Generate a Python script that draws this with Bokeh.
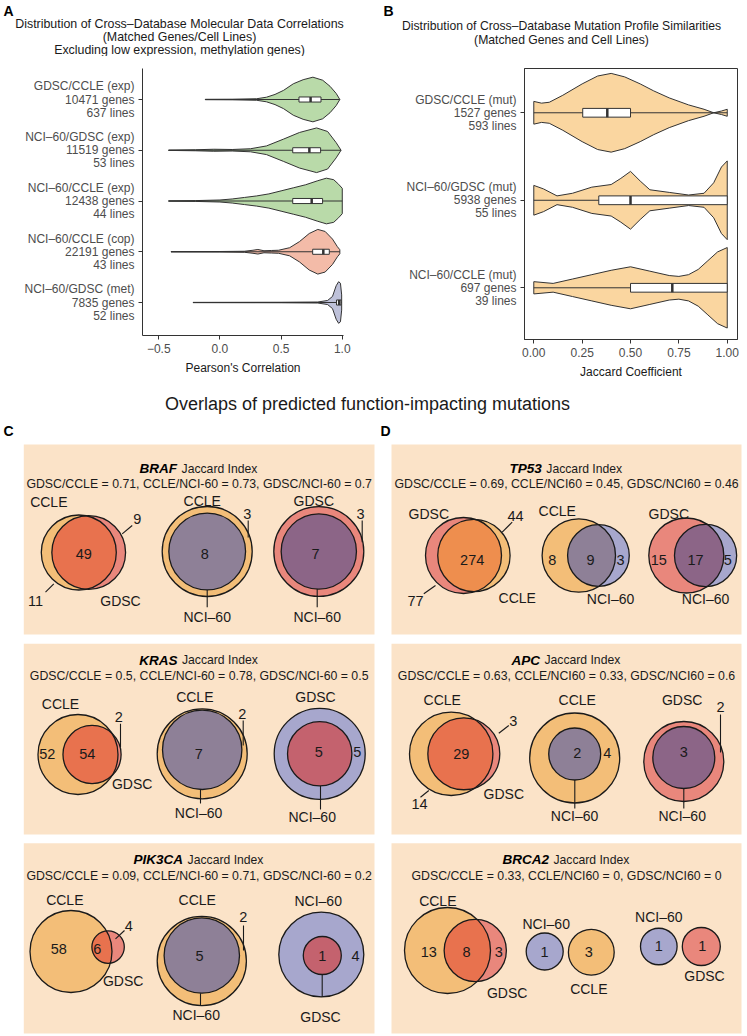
import math
import numpy as np
from bokeh.plotting import figure
from bokeh.models import Range1d, FixedTicker
from bokeh.layouts import column, row
from bokeh.embed import file_html
from bokeh.resources import INLINE
from bokeh.core.properties import value

FONT = "Liberation Sans"

# ---------------- Panel A data ----------------
A_LABELS = ["GDSC/CCLE (exp)", "NCI\u201360/GDSC (exp)", "NCI\u201360/CCLE (exp)",
            "NCI\u201360/CCLE (cop)", "NCI\u201360/GDSC (met)"]
A_GENES = [10471, 11519, 12438, 22191, 7835]
A_LINES = [637, 53, 44, 43, 52]
A_VIOLIN_X = [
    [-0.12, 0.10, 0.30, 0.38, 0.45, 0.52, 0.60, 0.68, 0.76, 0.84, 0.90, 0.95, 0.98],
    [-0.42, -0.20, -0.05, 0.10, 0.25, 0.38, 0.52, 0.65, 0.79, 0.88, 0.95, 0.99],
    [-0.42, -0.20, 0.00, 0.10, 0.20, 0.30, 0.40, 0.50, 0.60, 0.70, 0.80, 0.87, 0.93, 0.97, 1.00],
    [-0.40, 0.00, 0.20, 0.27, 0.31, 0.36, 0.42, 0.48, 0.57, 0.65, 0.73, 0.80, 0.86, 0.92, 0.96, 0.98],
    [-0.22, 0.50, 0.80, 0.88, 0.92, 0.95, 0.97, 0.985, 0.995],
]
A_VIOLIN_W = [
    [0.004, 0.006, 0.015, 0.045, 0.10, 0.18, 0.31, 0.39, 0.44, 0.38, 0.26, 0.12, 0.0],
    [0.003, 0.01, 0.02, 0.015, 0.03, 0.085, 0.22, 0.35, 0.44, 0.37, 0.15, 0.0],
    [0.003, 0.008, 0.02, 0.04, 0.07, 0.10, 0.14, 0.20, 0.26, 0.32, 0.40, 0.45, 0.42, 0.33, 0.25],
    [0.003, 0.005, 0.01, 0.03, 0.045, 0.02, 0.025, 0.03, 0.08, 0.20, 0.36, 0.44, 0.40, 0.25, 0.10, 0.04],
    [0.003, 0.005, 0.01, 0.04, 0.12, 0.33, 0.41, 0.38, 0.15],
]
A_Q1 = [0.646, 0.595, 0.595, 0.758, 0.953]
A_MED = [0.741, 0.731, 0.750, 0.845, 0.975]
A_Q3 = [0.826, 0.823, 0.839, 0.894, 0.990]
A_MIN = [-0.12, -0.42, -0.42, -0.40, -0.22]
A_MAX = [0.98, 0.99, 1.00, 0.98, 0.995]
A_TICKS = [-0.5, 0.0, 0.5, 1.0]
A_TICK_TEXT = ["\u22120.5", "0.0", "0.5", "1.0"]

# ---------------- Panel B data ----------------
B_LABELS = ["GDSC/CCLE (mut)", "NCI\u201360/GDSC (mut)", "NCI\u201360/CCLE (mut)"]
B_GENES = [1527, 5938, 697]
B_LINES = [593, 55, 39]
B_VIOLIN_X = [
    [0.0, 0.04, 0.08, 0.15, 0.25, 0.33, 0.40, 0.47, 0.55, 0.62, 0.70, 0.80, 0.88, 0.93, 0.97, 1.0],
    [0.0, 0.05, 0.12, 0.20, 0.30, 0.40, 0.45, 0.50, 0.55, 0.60, 0.70, 0.80, 0.88, 0.93, 0.97, 1.0],
    [0.0, 0.10, 0.20, 0.30, 0.40, 0.50, 0.60, 0.70, 0.75, 0.80, 0.85, 0.90, 0.95, 1.0],
]
B_VIOLIN_W = [
    [0.13, 0.11, 0.12, 0.20, 0.33, 0.42, 0.45, 0.41, 0.33, 0.25, 0.17, 0.09, 0.04, 0.0, 0.02, 0.04],
    [0.17, 0.13, 0.05, 0.08, 0.15, 0.18, 0.25, 0.33, 0.22, 0.12, 0.09, 0.06, 0.08, 0.20, 0.38, 0.45],
    [0.07, 0.05, 0.10, 0.15, 0.20, 0.24, 0.19, 0.14, 0.13, 0.15, 0.21, 0.31, 0.41, 0.46],
]
B_Q1 = [0.253, 0.336, 0.50]
B_MED = [0.38, 0.50, 0.716]
B_Q3 = [0.50, 1.00, 1.00]
B_WLO = [0.0, 0.0, 0.0]
B_WHI = [1.0, 1.0, 1.0]
B_TICKS = [0.0, 0.25, 0.5, 0.75, 1.0]
B_TICK_TEXT = ["0.00", "0.25", "0.50", "0.75", "1.00"]

# ---------------- Panels C / D data ----------------
GENES = ["BRAF", "KRAS", "PIK3CA", "TP53", "APC", "BRCA2"]
PAIR_NAMES = [["GDSC/CCLE", "CCLE/NCI-60", "GDSC/NCI-60"]] * 3 + [["GDSC/CCLE", "CCLE/NCI60", "GDSC/NCI60"]] * 3
N = "NCI\u201360"
VENN_SET_A = ["CCLE", "CCLE", "GDSC", "CCLE", "CCLE", "GDSC", "CCLE", "CCLE", N,
              "GDSC", "CCLE", "GDSC", "CCLE", "CCLE", "GDSC", "CCLE", N, N]
VENN_SET_B = ["GDSC", N, N, "GDSC", N, N, "GDSC", N, "GDSC",
              "CCLE", N, N, "GDSC", N, N, "GDSC", "CCLE", "GDSC"]
N_A_ONLY = [11, 3, 3, 52, 2, 5, 58, 2, 4, 77, 8, 15, 14, 4, 2, 13, 1, 1]
N_BOTH = [49, 8, 7, 54, 7, 5, 6, 5, 1, 274, 9, 17, 29, 2, 3, 8, 0, 0]
N_B_ONLY = [9, 0, 0, 2, 0, 0, 4, 0, 0, 44, 3, 5, 3, 0, 0, 3, 3, 1]

# ---------------- styles ----------------
CC, GD, NC = "#F3BE78", "#E9877C", "#A7A7CD"
X_CG, X_GC, X_CN, X_GN, X_NG = "#E8724E", "#EE8E4E", "#8E8097", "#8C6587", "#C4626E"
VENN_COLORS = [(CC, GD, X_CG), (CC, NC, X_CN), (GD, NC, X_GN),
               (CC, GD, X_CG), (CC, NC, X_CN), (NC, GD, X_NG),
               (CC, GD, X_CG), (CC, NC, X_CN), (NC, GD, X_NG),
               (GD, CC, X_GC), (CC, NC, X_CN), (GD, NC, X_GN),
               (CC, GD, X_CG), (CC, NC, X_CN), (GD, NC, X_GN),
               (CC, GD, X_CG), (NC, CC, None), (NC, GD, None)]
# layout of each diagram (page pixel coordinates)
VENN_LAYOUT = [
    dict(c=(78.3, 552), r=37.5, ang=0, la=(48.3, 501.7), lb=(120, 600), pa=(35, 600), pab=(83.3, 553.3), pb=(136.7, 518.3),
         lines=[(45, 591.7, 53.3, 583.3), (131.7, 525, 121.7, 533.3)]),
    dict(c=(206.7, 551), r=45, off=(0, 0), la=(201.7, 500), lb=(206.7, 616.7), pa=(246.7, 513.3), pab=(204.3, 553.3),
         lines=[(247.7, 520, 247.7, 537), (206.7, 589.4, 206.7, 606.7)]),
    dict(c=(318.3, 551), r=45, off=(0, 0), la=(313.3, 500), lb=(316.7, 616.7), pa=(360, 513.3), pab=(315, 553.3),
         lines=[(361.7, 520, 361.7, 541.7), (316.7, 588.6, 316.7, 606.7)]),
    dict(c=(77.5, 754), r=40, ang=0, la=(60, 703.3), lb=(131.7, 783.3), pa=(46.7, 753.3), pab=(86.7, 753.3), pb=(118.3, 716.7),
         lines=[(120, 723.3, 120, 746.7)]),
    dict(c=(201.7, 753.3), r=45, off=(0, -4), la=(194.3, 696.7), lb=(198, 812), pa=(241.7, 713.3), pab=(198.3, 753.3),
         lines=[(242.7, 720, 242.7, 745), (200, 789, 200, 803)]),
    dict(c=(319.2, 753.3), r=45.5, off=(0, 0), la=(315, 696.7), lb=(311.7, 816.7), pa=(356.7, 751.7), pab=(318.3, 751.7),
         lines=[(320, 785.5, 320, 809)]),
    dict(c=(70.5, 951), r=41, ang=-6.8, la=(64.3, 899.3), lb=(122.7, 980), pa=(58.3, 948.3), pab=(96.7, 948.3), pb=(128.3, 925),
         lines=[(124, 930, 115, 938.3)]),
    dict(c=(201.3, 960.5), r=44.6, off=(0, -5.5), la=(196.7, 899.3), lb=(195.7, 1014), pa=(242.7, 916), pab=(199, 955),
         lines=[(243, 925, 243, 950), (200, 992.7, 200, 1005)]),
    dict(c=(320.8, 954), r=42.5, off=(1, 1), la=(317.7, 900.7), lb=(320, 1016.7), pa=(355, 955.7), pab=(321.7, 955.7),
         lines=[(321.7, 974, 321.7, 996.5)]),
    dict(c=(463, 555), r=38, ang=0, la=(428.3, 513.3), lb=(516.7, 597.3), pa=(415, 600), pab=(471.7, 559), pb=(515, 515),
         lines=[(423.3, 593.3, 435, 585), (511.7, 521.7, 501.7, 531.7)]),
    dict(c=(578.3, 555), r=36.7, ang=0, la=(556.7, 510), lb=(610, 598.3), pa=(551.7, 559), pab=(590, 559), pb=(620, 559), lines=[]),
    dict(c=(685.8, 555), r=37.5, ang=0, la=(668.3, 513.3), lb=(705, 598.3), pa=(658.3, 559), pab=(695, 559), pb=(727.3, 559), lines=[]),
    dict(c=(450.7, 753.3), r=41.7, ang=0, la=(441.7, 699.3), lb=(503.3, 793.3), pa=(419, 803.3), pab=(460.7, 753.3), pb=(512.7, 720),
         lines=[(420, 796.7, 428.3, 790), (508.3, 725, 498.3, 732.7)]),
    dict(c=(574.2, 757.5), r=45, off=(0, -4), la=(576.7, 699.3), lb=(574, 815), pa=(606.7, 752.7), pab=(576.7, 752.7),
         lines=[(574.3, 779.5, 574.3, 808)]),
    dict(c=(683.3, 761), r=40, off=(0, -4), la=(681.7, 699.3), lb=(681.7, 815), pa=(720, 706.7), pab=(683.3, 751.7),
         lines=[(720, 714, 720, 752), (683.3, 788, 683.3, 808)]),
    dict(c=(447, 950), r=43, ang=0, la=(437.3, 900), lb=(506.7, 992.7), pa=(428.3, 951.7), pab=(466, 951.7), pb=(498.3, 951.7), lines=[]),
    dict(c=(544.2, 951), r=18.5, cb=(590.8, 951.7), rb=22.9, la=(545.7, 923.3), lb=(588.3, 988.3), pa=(544, 951.7), pb=(588.3, 951.7), lines=[]),
    dict(c=(658.3, 946), r=18.3, cb=(700.8, 946), rb=19, la=(658.3, 916.7), lb=(704, 975), pa=(658.3, 945), pb=(701.7, 945), lines=[]),
]
BOX_X = [(23.3, 374.0), (391.0, 741.0)]
BOX_Y = [(444.0, 634.0), (643.3, 834.0), (842.7, 1033.0)]
TITLE_Y = [(468.0, 483.5), (659.5, 675.7), (859.3, 875.7)]
BOX_FILL = "#FBE3C8"

DARK = "#333333"
TICK_TXT = "#4D4D4D"
W_TOTAL = 745


def style_axes(p):
    for ax in (p.xaxis[0], p.yaxis[0]):
        ax.axis_line_color = DARK
        ax.axis_line_width = 1
        ax.major_tick_line_color = DARK
        ax.major_tick_out = 4
        ax.major_tick_in = 0
        ax.minor_tick_line_color = None
        ax.major_label_text_font = FONT
        ax.major_label_text_font_size = "12px"
        ax.major_label_text_color = TICK_TXT
        ax.major_label_standoff = 4
        ax.major_label_text_line_height = 0.93
        ax.axis_label_text_font = FONT
        ax.axis_label_text_font_size = "12px"
        ax.axis_label_text_font_style = "normal"
        ax.axis_label_text_color = "#1A1A1A"
        ax.axis_label_standoff = 5
    p.grid.visible = False


def blank(width, height, x0, x1, y_top, y_bot):
    p = figure(width=width, height=height, x_range=Range1d(x0, x1), y_range=Range1d(y_bot, y_top),
               x_axis_location=None, y_axis_location=None, min_border=0,
               output_backend="svg", toolbar_location=None)
    p.grid.visible = False
    p.outline_line_color = None
    return p


def txt(p, x, y, s, size="14px", align="center", baseline="middle", style="normal", color="#1A1A1A"):
    p.text(x=x, y=y, text=s, text_font=value(FONT), text_font_size=size, text_align=align,
           text_baseline=baseline, text_font_style=style, text_color=color)


# ---------------- header strip (panel titles and letters) ----------------
pT = blank(W_TOTAL, 56, 0, W_TOTAL, 0, 56)
txt(pT, [179] * 3, [23.3, 36.3, 49.3],
    ["Distribution of Cross\u2013Database Molecular Data Correlations",
     "(Matched Genes/Cell Lines)",
     "Excluding low expression, methylation genes)"], size="12.4px")
txt(pT, [561] * 2, [25, 39],
    ["Distribution of Cross\u2013Database Mutation Profile Similarities",
     "(Matched Genes and Cell Lines)"], size="12.2px")
txt(pT, [3, 383], [2, 2], ["A", "B"], size="14px", align="left", baseline="top", style="bold", color="black")

# ---------------- Panel A ----------------
pA = figure(frame_width=201, frame_height=267, min_border_left=142, min_border_right=27,
            min_border_top=12, min_border_bottom=53,
            x_range=Range1d(-0.633, 1.01), y_range=Range1d(0.35, 5.611),
            output_backend="svg", toolbar_location=None)
pA.outline_line_color = None
nA = len(A_LABELS)
a_c = [nA - i for i in range(nA)]
for i in range(nA):
    c = a_c[i]
    xs = list(A_VIOLIN_X[i]) + list(A_VIOLIN_X[i][::-1])
    ys = [c + w for w in A_VIOLIN_W[i]] + [c - w for w in A_VIOLIN_W[i][::-1]]
    col = ["#B9DAA9", "#B9DAA9", "#B9DAA9", "#F3BBA8", "#BEC1D9"][i]
    pA.patch(xs, ys, fill_color=col, line_color=DARK, line_width=1)
pA.segment(x0=A_MIN, y0=a_c, x1=A_MAX, y1=a_c, line_color=DARK, line_width=1)
pA.quad(left=A_Q1, right=A_Q3, bottom=[c - 0.05 for c in a_c], top=[c + 0.05 for c in a_c],
        fill_color="white", line_color=DARK, line_width=1)
pA.segment(x0=A_MED, y0=[c - 0.05 for c in a_c], x1=A_MED, y1=[c + 0.05 for c in a_c],
           line_color=DARK, line_width=2.5)
style_axes(pA)
pA.xaxis.ticker = FixedTicker(ticks=A_TICKS)
pA.xaxis.major_label_overrides = {t: s for t, s in zip(A_TICKS, A_TICK_TEXT)}
pA.xaxis.axis_label = "Pearson's Correlation"
pA.yaxis.ticker = FixedTicker(ticks=a_c)
pA.yaxis.major_label_overrides = {a_c[i]: f"{A_LABELS[i]}\n{A_GENES[i]} genes\n{A_LINES[i]} lines" for i in range(nA)}

# ---------------- Panel B ----------------
pB = figure(frame_width=213, frame_height=271, min_border_left=154, min_border_right=W_TOTAL - 370 - 154 - 213,
            min_border_top=8, min_border_bottom=53,
            x_range=Range1d(-0.048, 1.053), y_range=Range1d(0.409, 3.506),
            output_backend="svg", toolbar_location=None)
pB.outline_line_color = DARK
pB.outline_line_width = 1
nB = len(B_LABELS)
b_c = [nB - i for i in range(nB)]
for i in range(nB):
    c = b_c[i]
    xs = list(B_VIOLIN_X[i]) + list(B_VIOLIN_X[i][::-1])
    ys = [c + w for w in B_VIOLIN_W[i]] + [c - w for w in B_VIOLIN_W[i][::-1]]
    pB.patch(xs, ys, fill_color="#FAD6A0", line_color=DARK, line_width=1)
pB.segment(x0=B_WLO, y0=b_c, x1=B_WHI, y1=b_c, line_color=DARK, line_width=1)
pB.quad(left=B_Q1, right=B_Q3, bottom=[c - 0.05 for c in b_c], top=[c + 0.05 for c in b_c],
        fill_color="white", line_color=DARK, line_width=1)
pB.segment(x0=B_MED, y0=[c - 0.05 for c in b_c], x1=B_MED, y1=[c + 0.05 for c in b_c],
           line_color=DARK, line_width=2.5)
style_axes(pB)
pB.xaxis.ticker = FixedTicker(ticks=B_TICKS)
pB.xaxis.major_label_overrides = {t: s for t, s in zip(B_TICKS, B_TICK_TEXT)}
pB.xaxis.axis_label = "Jaccard Coefficient"
pB.yaxis.ticker = FixedTicker(ticks=b_c)
pB.yaxis.major_label_overrides = {b_c[i]: f"{B_LABELS[i]}\n{B_GENES[i]} genes\n{B_LINES[i]} lines" for i in range(nB)}

# ---------------- Panels C / D (Venn diagrams) ----------------
pC = blank(W_TOTAL, 646, 0, W_TOTAL, 388, 1034)

txt(pC, [367], [403], ["Overlaps of predicted function-impacting mutations"], size="18px")
txt(pC, [3], [430], ["C"], size="14px", align="left", style="bold", color="black")
txt(pC, [380], [430], ["D"], size="14px", align="left", style="bold", color="black")

BOLD_W = {"B": .722, "R": .722, "A": .722, "F": .611, "K": .722, "S": .667, "P": .667, "I": .278,
          "3": .556, "C": .722, "T": .611, "5": .556, "2": .556}
for g, gene in enumerate(GENES):
    col_i, row_i = g // 3, g % 3
    x0, x1 = BOX_X[col_i]
    y0, y1 = BOX_Y[row_i]
    pC.quad(left=[x0], right=[x1], top=[y0], bottom=[y1], fill_color=BOX_FILL, line_color=None)
    cx = (x0 + x1) / 2
    ty1, ty2 = TITLE_Y[row_i]
    w_gene = sum(BOLD_W[ch] for ch in gene) * 13.5
    w_rest = 6.325 * 12.2
    start = cx - (w_gene + 4.5 + w_rest) / 2
    txt(pC, [start], [ty1], [gene], size="13.5px", align="left", style="bold italic", color="black")
    txt(pC, [start + w_gene + 4.5], [ty1], ["Jaccard Index"], size="12.2px", align="left")
    parts = []
    for k in range(3):
        i = 3 * g + k
        j = N_BOTH[i] / (N_A_ONLY[i] + N_BOTH[i] + N_B_ONLY[i])
        parts.append(f"{PAIR_NAMES[g][k]} = {round(j, 2):g}")
    txt(pC, [cx], [ty2], [", ".join(parts)], size="12.3px")


def lens_area(r1, r2, d):
    if d >= r1 + r2:
        return 0.0
    if d <= abs(r1 - r2):
        return math.pi * min(r1, r2) ** 2
    a1 = r1 * r1 * math.acos((d * d + r1 * r1 - r2 * r2) / (2 * d * r1))
    a2 = r2 * r2 * math.acos((d * d + r2 * r2 - r1 * r1) / (2 * d * r2))
    a3 = 0.5 * math.sqrt((-d + r1 + r2) * (d + r1 - r2) * (d - r1 + r2) * (d + r1 + r2))
    return a1 + a2 - a3


def solve_d(r1, r2, target):
    lo, hi = abs(r1 - r2), r1 + r2
    for _ in range(80):
        mid = (lo + hi) / 2
        if lens_area(r1, r2, mid) > target:
            lo = mid
        else:
            hi = mid
    return (lo + hi) / 2


def arc(cx, cy, r, t0, t1, n=90):
    ts = np.linspace(t0, t1, n)
    return list(cx + r * np.cos(ts)), list(cy + r * np.sin(ts))


OUT = "#1A1A1A"
for i, L in enumerate(VENN_LAYOUT):
    ca_, cb_, cab_ = VENN_COLORS[i]
    na = N_A_ONLY[i] + N_BOTH[i]
    nb = N_B_ONLY[i] + N_BOTH[i]
    xa, ya = L["c"]
    ra = L["r"]
    if N_BOTH[i] == 0:
        xb, yb = L["cb"]
        rb = L["rb"]
        pC.circle(x=[xa, xb], y=[ya, yb], radius=[ra, rb], fill_color=[ca_, cb_], line_color=OUT, line_width=1.3)
    elif N_B_ONLY[i] == 0:
        rb = ra * math.sqrt(nb / na)
        ox, oy = L.get("off", (0, 0))
        xb, yb = xa + ox, ya + oy
        pC.circle(x=[xa], y=[ya], radius=[ra], fill_color=ca_, line_color=OUT, line_width=1.3)
        pC.circle(x=[xb], y=[yb], radius=[rb], fill_color=cab_, line_color=OUT, line_width=1.3)
    else:
        rb = ra * math.sqrt(nb / na)
        target = N_BOTH[i] / na * math.pi * ra * ra
        d = solve_d(ra, rb, target)
        th = math.radians(L.get("ang", 0))
        xb, yb = xa + d * math.cos(th), ya + d * math.sin(th)
        pC.circle(x=[xa, xb], y=[ya, yb], radius=[ra, rb], fill_color=[ca_, cb_], line_color=None)
        al = math.acos((d * d + ra * ra - rb * rb) / (2 * d * ra))
        be = math.acos((d * d + rb * rb - ra * ra) / (2 * d * rb))
        x1, y1 = arc(xa, ya, ra, th - al, th + al)
        x2, y2 = arc(xb, yb, rb, th + math.pi - be, th + math.pi + be)
        pC.patch(x1 + x2, y1 + y2, fill_color=cab_, line_color=None)
        pC.circle(x=[xa, xb], y=[ya, yb], radius=[ra, rb], fill_color=None, line_color=OUT, line_width=1.3)
    for (lx0, ly0, lx1, ly1) in L.get("lines", []):
        pC.segment(x0=[lx0], y0=[ly0], x1=[lx1], y1=[ly1], line_color=OUT, line_width=1.1)
    txt(pC, [L["la"][0], L["lb"][0]], [L["la"][1], L["lb"][1]], [VENN_SET_A[i], VENN_SET_B[i]], size="14px")
    nx, ny, ns = [], [], []
    for key, n in (("pa", N_A_ONLY[i]), ("pab", N_BOTH[i]), ("pb", N_B_ONLY[i])):
        if n > 0 and key in L:
            nx.append(L[key][0]); ny.append(L[key][1]); ns.append(str(n))
    txt(pC, nx, ny, ns, size="14.5px")

layout = column(pT, row(pA, pB), pC)
open("out.html", "w").write(file_html(layout, INLINE))
